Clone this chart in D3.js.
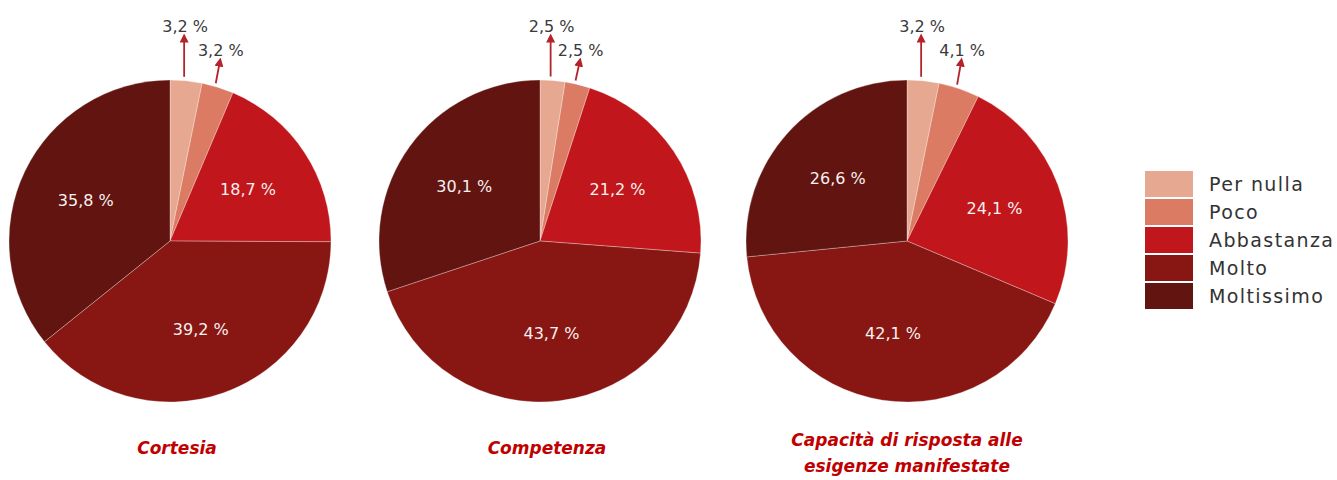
<!DOCTYPE html>
<html>
<head>
<meta charset="utf-8">
<script src="https://cdn.jsdelivr.net/npm/d3@7"></script>
<style>
  body { margin: 0; background: #fff; }
</style>
</head>
<body>
<script>
var categories = ["Per nulla", "Poco", "Abbastanza", "Molto", "Moltissimo"];
var colours = ["#e7a891", "#db7b63", "#c1161b", "#881714", "#621410"];

var titles = [["Cortesia"], ["Competenza"], ["Capacità di risposta alle", "esigenze manifestate"]];
var cortesia = [3.2, 3.2, 18.7, 39.2, 35.8];
var competenza = [2.5, 2.5, 21.2, 43.7, 30.1];
var capacita = [3.2, 4.1, 24.1, 42.1, 26.6];
var series = [cortesia, competenza, capacita];

var width = 1337, height = 480;
var radius = 161;
var centresX = [170, 540, 907];
var cy = 241;

function fmt(v) { return v.toFixed(1).replace(".", ",") + " %"; }

var svg = d3.select("body").append("svg")
  .attr("width", width)
  .attr("height", height);

svg.append("defs").append("marker")
  .attr("id", "head")
  .attr("viewBox", "0 0 10 10")
  .attr("refX", 5).attr("refY", 5)
  .attr("markerWidth", 5).attr("markerHeight", 5)
  .attr("orient", "auto")
  .append("path")
  .attr("d", "M0,0 L10,5 L0,10 z")
  .attr("fill", "#b3232a");

var pie = d3.pie().sort(null).value(function(d) { return d; });
var arc = d3.arc().innerRadius(0).outerRadius(radius);
var labelArc = d3.arc().innerRadius(radius * 0.58).outerRadius(radius * 0.58);

for (var p = 0; p < series.length; p++) {
  var g = svg.append("g").attr("transform", "translate(" + centresX[p] + "," + cy + ")");
  var arcs = pie(series[p]);

  g.selectAll("path.slice")
    .data(arcs)
    .enter().append("path")
    .attr("class", "slice")
    .attr("d", arc)
    .attr("fill", function(d, i) { return colours[i]; })
    .attr("stroke", "#fff")
    .attr("stroke-width", 0.3);

  // big slices: label inside
  g.selectAll("text.inner")
    .data(arcs.filter(function(d) { return d.value > 10; }))
    .enter().append("text")
    .attr("class", "inner")
    .attr("transform", function(d) { return "translate(" + labelArc.centroid(d) + ")"; })
    .attr("dy", "0.35em")
    .attr("text-anchor", "middle")
    .attr("font-family", "DejaVu Sans")
    .attr("font-size", 16)
    .attr("fill", "#f7f1ef")
    .text(function(d) { return fmt(d.value); });

  // small slices: arrow + label above
  arcs.filter(function(d) { return d.value < 10; }).forEach(function(d, k) {
    var a = (d.startAngle + d.endAngle) / 2;
    var x0 = radius * Math.sin(a) - 2, y0 = -radius * Math.cos(a) - 4;
    var x1 = k === 0 ? x0 : x0 + 4;
    var y1 = k === 0 ? cy - 38 : cy - 62;
    g.append("line")
      .attr("x1", x0).attr("y1", y0)
      .attr("x2", x1).attr("y2", -y1)
      .attr("stroke", "#b3232a")
      .attr("stroke-width", 1.8)
      .attr("marker-end", "url(#head)");
    g.append("text")
      .attr("x", x1 + 1)
      .attr("y", -y1 - 6)
      .attr("text-anchor", "middle")
      .attr("font-family", "DejaVu Sans")
      .attr("font-size", 16)
      .attr("fill", "#3a3a3a")
      .text(fmt(d.value));
  });

  svg.selectAll(null)
    .data(titles[p])
    .enter().append("text")
    .attr("x", centresX[p] + (p === 2 ? 0 : 7))
    .attr("y", function(d, i) { return (titles[p].length > 1 ? 446 : 454) + i * 26; })
    .attr("text-anchor", "middle")
    .attr("font-family", "DejaVu Sans")
    .attr("font-weight", "bold")
    .attr("font-style", "italic")
    .attr("font-size", 17)
    .attr("fill", "#c00000")
    .text(function(d) { return d; });
}

var legend = svg.append("g").attr("transform", "translate(1145,171)");
legend.selectAll("rect")
  .data(categories)
  .enter().append("rect")
  .attr("x", 0)
  .attr("y", function(d, i) { return i * 28; })
  .attr("width", 48)
  .attr("height", 26)
  .attr("fill", function(d, i) { return colours[i]; });
legend.selectAll("text")
  .data(categories)
  .enter().append("text")
  .attr("x", 64)
  .attr("y", function(d, i) { return i * 28 + 13; })
  .attr("dy", "0.35em")
  .attr("font-family", "DejaVu Sans")
  .attr("font-size", 19)
  .attr("letter-spacing", 1.4)
  .attr("fill", "#333")
  .text(function(d) { return d; });
</script>
</body>
</html>
